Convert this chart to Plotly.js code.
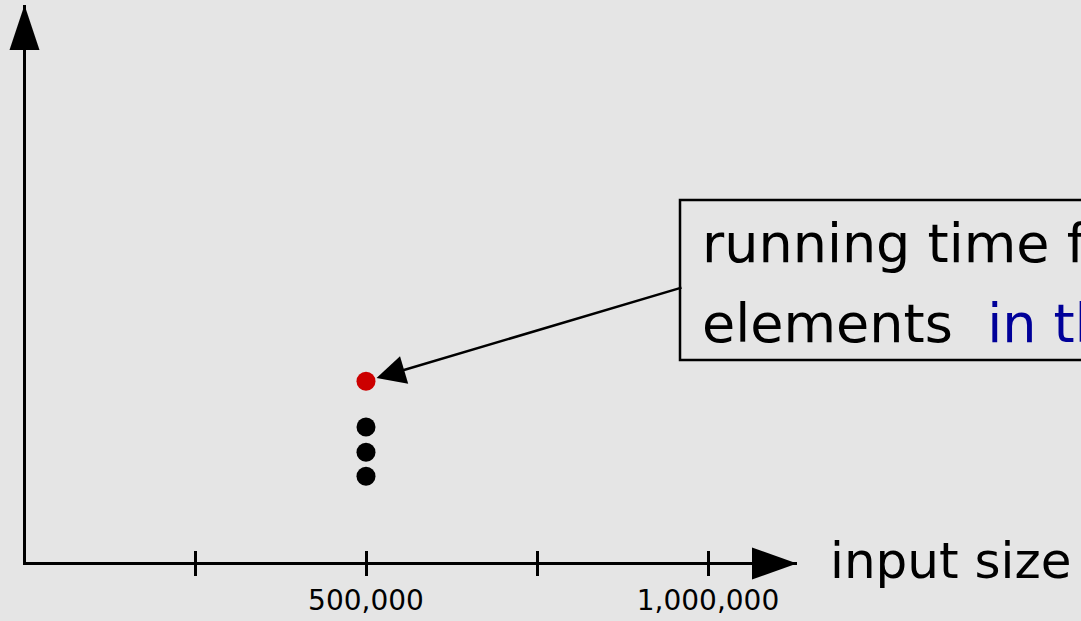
<!DOCTYPE html>
<html>
<head>
<meta charset="utf-8">
<script src="https://cdn.plot.ly/plotly-3.0.1.min.js"></script>
<style>html,body{margin:0;padding:0;background:#e5e5e5;overflow:hidden;}#chart{width:1081px;height:621px;}</style>
</head>
<body>
<div id="chart"></div>
<script>
// Data
const inputSizes = [500000, 500000, 500000];
const runningTimes = [1.57, 2.0, 2.45];
const highlightSize = [500000];
const highlightTime = [3.27];
const tickValues = [250000, 500000, 750000, 1000000];
const tickLabels = ['', '500,000', '', '1,000,000'];
const xLabel = 'input size';
const noteLine1 = 'running time for 500,000';
const noteLine2 = 'elements';
const noteBlue = 'in the worst case';

const bg = '#e5e5e5';
const textFont = '"DejaVu Sans", sans-serif';

const traces = [
  {x: inputSizes, y: runningTimes, type: 'scatter', mode: 'markers',
   marker: {color: '#000000', size: 19}, hoverinfo: 'skip', cliponaxis: false},
  {x: highlightSize, y: highlightTime, type: 'scatter', mode: 'markers',
   marker: {color: '#cc0000', size: 19}, hoverinfo: 'skip', cliponaxis: false},
  {x: [], y: [], xaxis: 'x2', yaxis: 'y', type: 'scatter', showlegend: false}
];

const xRange = [2924, 1130117];
const axisCommon = {
  range: xRange, tickvals: tickValues, ticklen: 11, tickwidth: 3, tickcolor: '#000',
  showgrid: false, zeroline: false, fixedrange: true
};

// plot area: left 26, top 5, width 771, height 557
const px = 1 / 771, py = 1 / 557;
const X = p => (p - 26) * px;   // pixel -> paper x
const Y = p => (562 - p) * py;  // pixel -> paper y

const layout = {
  width: 1081, height: 621,
  margin: {l: 26, r: 284, t: 5, b: 59, pad: 0},
  paper_bgcolor: bg, plot_bgcolor: bg,
  showlegend: false,
  xaxis: Object.assign({}, axisCommon, {
    ticks: 'outside', ticktext: tickLabels, showline: true, linewidth: 3, linecolor: '#000',
    tickfont: {family: '"DejaVu Sans", sans-serif', size: 28, color: '#000'},
    ticklabelstandoff: 0
  }),
  xaxis2: Object.assign({}, axisCommon, {
    ticks: 'inside', overlaying: 'x', anchor: 'y', side: 'bottom', showticklabels: false,
    showline: false
  }),
  yaxis: {range: [0.036, 10], showline: true, linewidth: 3, linecolor: '#000', ticks: '',
    showticklabels: false, showgrid: false, zeroline: false, fixedrange: true},
  shapes: [
    {type: 'path', xref: 'paper', yref: 'paper',
     path: `M${X(9.5)},${Y(50)} L${X(39.5)},${Y(50)} L${X(24.5)},${Y(5)} Z`,
     fillcolor: '#000', line: {width: 0}},
    {type: 'path', xref: 'paper', yref: 'paper',
     path: `M${X(752)},${Y(547.5)} L${X(752)},${Y(579.5)} L${X(797)},${Y(563.5)} Z`,
     fillcolor: '#000', line: {width: 0}},
    {type: 'rect', xref: 'paper', yref: 'paper',
     x0: X(680), x1: 1.6, y0: Y(360), y1: Y(200),
     fillcolor: 'rgba(0,0,0,0)', line: {color: '#000', width: 2.5}}
  ],
  annotations: [
    {x: highlightSize[0], y: highlightTime[0], xref: 'x', yref: 'y', text: '',
     showarrow: true, ax: 317, ay: -94, arrowhead: 2, arrowsize: 2.3, arrowwidth: 2.5,
     arrowcolor: '#000', standoff: 11},
    {xref: 'paper', yref: 'paper', x: X(700), y: Y(244), xanchor: 'left', yanchor: 'middle',
     showarrow: false, align: 'left', text: noteLine1,
     font: {family: textFont, size: 54, color: '#000'}},
    {xref: 'paper', yref: 'paper', x: X(700), y: Y(324), xanchor: 'left', yanchor: 'middle',
     showarrow: false, align: 'left',
     text: noteLine2 + '  <span style="color:#000099">' + noteBlue + '</span>',
     font: {family: textFont, size: 54, color: '#000'}},
    {xref: 'paper', yref: 'paper', x: X(828), y: Y(561), xanchor: 'left', yanchor: 'middle',
     showarrow: false, text: xLabel, font: {family: textFont, size: 50, color: '#000'}}
  ]
};

Plotly.newPlot('chart', traces, layout, {staticPlot: true, displayModeBar: false});
</script>
</body>
</html>
